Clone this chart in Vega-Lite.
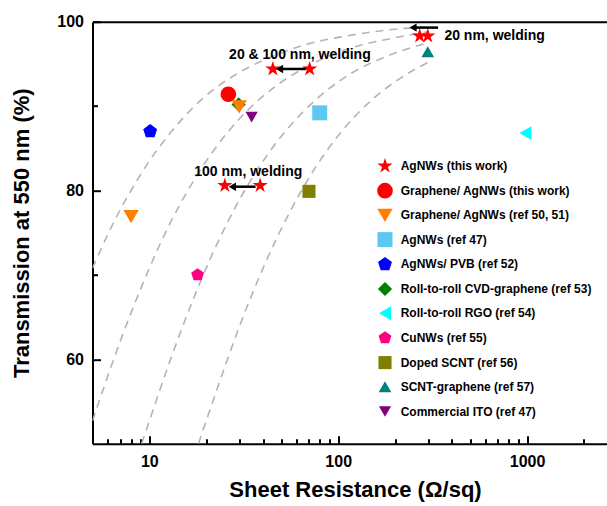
{
  "$schema": "https://vega.github.io/schema/vega-lite/v6.json",
  "autosize": "none",
  "width": 514,
  "height": 422,
  "padding": {"left": 92.5, "top": 21.7, "right": 0.5, "bottom": 62.3},
  "background": "white",
  "config": {
    "view": {"stroke": null},
    "font": "Liberation Sans",
    "axis": {
      "domainColor": "black", "domainWidth": 2, "tickColor": "black", "tickWidth": 2,
      "labelFont": "Liberation Sans", "labelFontWeight": "bold", "labelFontSize": 16, "labelColor": "black",
      "titleFont": "Liberation Sans", "titleFontWeight": "bold", "titleFontSize": 22, "titleColor": "black",
      "grid": false
    }
  },
  "datasets": {
    "points": [
      {"series": "Roll-to-roll CVD-graphene (ref 53)", "R": 29.7, "T": 90.2},
      {"series": "AgNWs (this work)", "R": 270, "T": 98.3},
      {"series": "AgNWs (this work)", "R": 298, "T": 98.3},
      {"series": "AgNWs (this work)", "R": 45.1, "T": 94.4},
      {"series": "AgNWs (this work)", "R": 70.6, "T": 94.4},
      {"series": "AgNWs (this work)", "R": 25.1, "T": 80.6},
      {"series": "AgNWs (this work)", "R": 38.6, "T": 80.6},
      {"series": "Graphene/ AgNWs (this work)", "R": 26.2, "T": 91.4},
      {"series": "Graphene/ AgNWs (ref 50, 51)", "R": 29.9, "T": 89.9},
      {"series": "Graphene/ AgNWs (ref 50, 51)", "R": 8.0, "T": 76.9},
      {"series": "AgNWs (ref 47)", "R": 79.8, "T": 89.2},
      {"series": "AgNWs/ PVB (ref 52)", "R": 10.1, "T": 87.0},
      {"series": "Roll-to-roll RGO (ref 54)", "R": 980, "T": 86.8},
      {"series": "CuNWs (ref 55)", "R": 18.0, "T": 70.0},
      {"series": "Doped SCNT (ref 56)", "R": 70, "T": 79.9},
      {"series": "SCNT-graphene (ref 57)", "R": 298, "T": 96.45},
      {"series": "Commercial ITO (ref 47)", "R": 34.8, "T": 88.7}
    ],
    "curves": [
      {"curve": "A", "R": 5, "T": 70.8}, {"curve": "A", "R": 6, "T": 74.7}, {"curve": "A", "R": 7, "T": 77.7},
      {"curve": "A", "R": 8, "T": 80.0}, {"curve": "A", "R": 10, "T": 83.5}, {"curve": "A", "R": 13, "T": 86.9},
      {"curve": "A", "R": 17, "T": 89.8}, {"curve": "A", "R": 22, "T": 92.0}, {"curve": "A", "R": 30, "T": 94.0},
      {"curve": "A", "R": 45, "T": 95.9}, {"curve": "A", "R": 70, "T": 97.4}, {"curve": "A", "R": 110, "T": 98.3},
      {"curve": "A", "R": 180, "T": 99.0}, {"curve": "A", "R": 300, "T": 99.4},
      {"curve": "B", "R": 5, "T": 52.7}, {"curve": "B", "R": 6, "T": 57.9}, {"curve": "B", "R": 7, "T": 62.1},
      {"curve": "B", "R": 8, "T": 65.5}, {"curve": "B", "R": 10, "T": 70.8}, {"curve": "B", "R": 13, "T": 76.3},
      {"curve": "B", "R": 17, "T": 81.0}, {"curve": "B", "R": 22, "T": 84.8}, {"curve": "B", "R": 30, "T": 88.5},
      {"curve": "B", "R": 45, "T": 92.1}, {"curve": "B", "R": 70, "T": 94.8}, {"curve": "B", "R": 110, "T": 96.7},
      {"curve": "B", "R": 180, "T": 97.9}, {"curve": "B", "R": 300, "T": 98.8},
      {"curve": "C", "R": 9.1, "T": 50.0}, {"curve": "C", "R": 10, "T": 52.7}, {"curve": "C", "R": 13, "T": 60.1},
      {"curve": "C", "R": 17, "T": 67.0}, {"curve": "C", "R": 22, "T": 72.9}, {"curve": "C", "R": 30, "T": 78.9},
      {"curve": "C", "R": 45, "T": 85.1}, {"curve": "C", "R": 70, "T": 90.0}, {"curve": "C", "R": 110, "T": 93.5},
      {"curve": "C", "R": 180, "T": 95.9}, {"curve": "C", "R": 300, "T": 97.5},
      {"curve": "D", "R": 18.2, "T": 50.0}, {"curve": "D", "R": 20, "T": 52.7}, {"curve": "D", "R": 25, "T": 59.0},
      {"curve": "D", "R": 30, "T": 63.9}, {"curve": "D", "R": 40, "T": 70.8}, {"curve": "D", "R": 55, "T": 77.3},
      {"curve": "D", "R": 70, "T": 81.5}, {"curve": "D", "R": 100, "T": 86.5}, {"curve": "D", "R": 150, "T": 90.7},
      {"curve": "D", "R": 220, "T": 93.5}, {"curve": "D", "R": 300, "T": 95.2}
    ],
    "arrows": [
      {"from": 338, "to": 249, "T": 99.3},
      {"from": 67.4, "to": 48.9, "T": 94.4},
      {"from": 36.5, "to": 27.5, "T": 80.45}
    ],
    "notes": [
      {"text": "20 & 100 nm, welding", "R": 62.7, "T": 96.06},
      {"text": "20 nm, welding", "R": 673, "T": 98.3},
      {"text": "100 nm, welding", "R": 33.4, "T": 82.25}
    ]
  },
  "layer": [
    {
      "data": {"name": "curves"},
      "mark": {"type": "line", "color": "#b4b4b4", "strokeWidth": 1.6, "strokeDash": [8, 6], "interpolate": "monotone", "clip": true},
      "encoding": {
        "x": {"field": "R", "type": "quantitative", "scale": {"type": "log", "domain": [5, 2634], "nice": false},
              "axis": {"orient": "top", "labels": false, "ticks": false, "title": null, "domain": true}},
        "y": {"field": "T", "type": "quantitative", "scale": {"domain": [50, 100], "nice": false, "zero": false},
              "axis": {"values": [60, 70, 80, 90, 100], "labelExpr": "datum.value % 20 == 0 ? datum.label : ''",
                       "tickSize": {"condition": {"test": "datum.value % 20 == 0", "value": -8}, "value": -5},
                       "labelPadding": 17, "title": "Transmission at 550 nm (%)", "titlePadding": 23}},
        "detail": {"field": "curve"}
      }
    },
    {
      "data": {"name": "points"},
      "mark": {"type": "point", "filled": true, "opacity": 1, "strokeWidth": 0},
      "encoding": {
        "x": {"field": "R", "type": "quantitative", "scale": {"type": "log", "domain": [5, 2634], "nice": false},
              "axis": {"orient": "bottom", "values": [6, 7, 8, 9, 10, 20, 30, 40, 50, 60, 70, 80, 90, 100, 200, 300, 400, 500, 600, 700, 800, 900, 1000, 2000],
                       "labelExpr": "datum.value == 10 || datum.value == 100 || datum.value == 1000 ? '' + datum.value : ''",
                       "tickSize": {"condition": {"test": "datum.value == 10 || datum.value == 100 || datum.value == 1000", "value": -8}, "value": -5},
                       "labelPadding": 18, "title": "Sheet Resistance (Ω/sq)", "titlePadding": 10, "titleX": 262.5}},
        "y": {"field": "T", "type": "quantitative", "scale": {"domain": [50, 100], "nice": false, "zero": false}},
        "color": {"field": "series", "type": "nominal",
          "scale": {"domain": ["AgNWs (this work)", "Graphene/ AgNWs (this work)", "Graphene/ AgNWs (ref 50, 51)", "AgNWs (ref 47)", "AgNWs/ PVB (ref 52)", "Roll-to-roll CVD-graphene (ref 53)", "Roll-to-roll RGO (ref 54)", "CuNWs (ref 55)", "Doped SCNT (ref 56)", "SCNT-graphene (ref 57)", "Commercial ITO (ref 47)"],
                    "range": ["#ff0000", "#ff0000", "#ff8000", "#5cc8f2", "#0000ff", "#008000", "#00ffff", "#ff0080", "#808000", "#008080", "#800080"]},
          "legend": {"orient": "none", "legendX": 284.5, "legendY": 136.3, "title": null, "padding": 0,
                     "labelFont": "Liberation Sans", "labelFontSize": 12, "labelFontWeight": "bold", "labelColor": "black",
                     "rowPadding": 8.7, "labelOffset": 7.7, "symbolStrokeWidth": 0, "gridAlign": "all", "labelLimit": 400}},
        "shape": {"field": "series", "type": "nominal",
          "scale": {"domain": ["AgNWs (this work)", "Graphene/ AgNWs (this work)", "Graphene/ AgNWs (ref 50, 51)", "AgNWs (ref 47)", "AgNWs/ PVB (ref 52)", "Roll-to-roll CVD-graphene (ref 53)", "Roll-to-roll RGO (ref 54)", "CuNWs (ref 55)", "Doped SCNT (ref 56)", "SCNT-graphene (ref 57)", "Commercial ITO (ref 47)"],
                    "range": ["M0,-1L0.2245,-0.309L0.9511,-0.309L0.3633,0.118L0.5878,0.809L0,0.382L-0.5878,0.809L-0.3633,0.118L-0.9511,-0.309L-0.2245,-0.309Z", "circle", "triangle-down", "square", "M0,-1L0.9511,-0.309L0.5878,0.809L-0.5878,0.809L-0.9511,-0.309Z", "diamond", "triangle-left", "M0,-1L0.9511,-0.309L0.5878,0.809L-0.5878,0.809L-0.9511,-0.309Z", "square", "triangle-up", "triangle-down"]}},
        "size": {"field": "series", "type": "nominal",
          "scale": {"domain": ["AgNWs (this work)", "Graphene/ AgNWs (this work)", "Graphene/ AgNWs (ref 50, 51)", "AgNWs (ref 47)", "AgNWs/ PVB (ref 52)", "Roll-to-roll CVD-graphene (ref 53)", "Roll-to-roll RGO (ref 54)", "CuNWs (ref 55)", "Doped SCNT (ref 56)", "SCNT-graphene (ref 57)", "Commercial ITO (ref 47)"],
                    "range": [256, 150, 256, 120, 210, 196, 256, 220, 130, 240, 256]}}
      }
    },
    {
      "data": {"name": "arrows"},
      "mark": {"type": "rule", "color": "black", "strokeWidth": 2.5},
      "encoding": {
        "x": {"field": "from", "type": "quantitative", "scale": {"type": "log", "domain": [5, 2634], "nice": false}, "axis": null},
        "x2": {"field": "to"},
        "y": {"field": "T", "type": "quantitative", "scale": {"domain": [50, 100], "nice": false, "zero": false}}
      }
    },
    {
      "data": {"name": "arrows"},
      "mark": {"type": "point", "shape": "triangle-left", "filled": true, "color": "black", "size": 70, "opacity": 1, "strokeWidth": 0},
      "encoding": {
        "x": {"field": "to", "type": "quantitative", "scale": {"type": "log", "domain": [5, 2634], "nice": false}, "axis": null},
        "y": {"field": "T", "type": "quantitative", "scale": {"domain": [50, 100], "nice": false, "zero": false}}
      }
    },
    {
      "data": {"name": "notes"},
      "mark": {"type": "text", "font": "Liberation Sans", "fontWeight": "bold", "fontSize": 14, "color": "black", "align": "center", "baseline": "middle"},
      "encoding": {
        "x": {"field": "R", "type": "quantitative", "scale": {"type": "log", "domain": [5, 2634], "nice": false}, "axis": null},
        "y": {"field": "T", "type": "quantitative", "scale": {"domain": [50, 100], "nice": false, "zero": false}},
        "text": {"field": "text"}
      }
    }
  ],
  "resolve": {"axis": {"x": "independent"}}
}
